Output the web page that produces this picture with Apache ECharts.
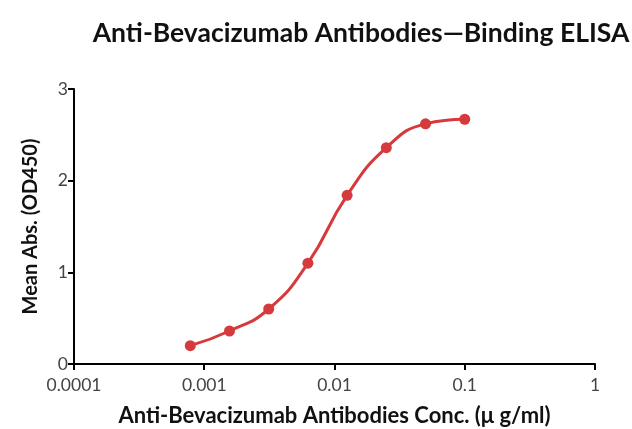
<!DOCTYPE html>
<html><head><meta charset="utf-8">
<script src="https://cdn.jsdelivr.net/npm/echarts@6/dist/echarts.min.js"></script>
<style>html,body{margin:0;padding:0;background:#fff}#c{width:632px;height:429px}</style>
</head><body><div id="c"></div>
<script>
const concentrations = [0.00078125, 0.0015625, 0.003125, 0.00625, 0.0125, 0.025, 0.05, 0.1];
const meanAbs = [0.20, 0.36, 0.60, 1.10, 1.84, 2.36, 2.62, 2.67];
const xTickLabels = ['0.0001', '0.001', '0.01', '0.1', '1'];
const yTickLabels = ['0', '1', '2', '3'];
const titleText = 'Anti-Bevacizumab Antibodies\u2014Binding ELISA';
const xName = 'Anti-Bevacizumab Antibodies Conc. (\u03bc g/ml)';
const yName = 'Mean Abs. (OD450)';

const chart = echarts.init(document.getElementById('c'), null, {renderer: 'canvas'});
const font = 'Lato';
chart.setOption({
  animation: false,
  backgroundColor: '#fff',
  title: {
    text: titleText, left: 356, top: 15, textAlign: 'center',
    textStyle: {fontFamily: font, fontWeight: 'bold', fontSize: 26.5, color: '#111'}
  },
  grid: {left: 74, right: 37, top: 89, bottom: 65, containLabel: false, outerBoundsMode: 'none'},
  xAxis: {
    type: 'log', logBase: 10, min: 0.0001, max: 1,
    name: xName, nameLocation: 'middle', nameGap: 41,
    nameTextStyle: {fontFamily: font, fontWeight: 'bold', fontSize: 22, color: '#111'},
    axisLine: {lineStyle: {color: '#000', width: 2}},
    axisTick: {show: true, length: 6, lineStyle: {color: '#000', width: 2}},
    minorTick: {show: false},
    splitLine: {show: false},
    axisLabel: {
      fontFamily: font, fontSize: 17.5, color: '#444', margin: 12,
      formatter: v => xTickLabels[Math.round(Math.log10(v)) + 4]
    }
  },
  yAxis: {
    type: 'value', min: 0, max: 3, interval: 1,
    name: yName, nameLocation: 'middle', nameGap: 33, nameRotate: 90,
    nameTextStyle: {fontFamily: font, fontWeight: 'bold', fontSize: 20, color: '#111'},
    axisLine: {show: true, lineStyle: {color: '#000', width: 2}},
    axisTick: {show: true, length: 6, lineStyle: {color: '#000', width: 2}},
    splitLine: {show: false},
    axisLabel: {
      fontFamily: font, fontSize: 17.5, color: '#444', margin: 6,
      formatter: v => yTickLabels[Math.round(v)]
    }
  },
  series: [{
    type: 'line',
    data: concentrations.map((c, i) => [c, meanAbs[i]]),
    smooth: 0.5,
    symbol: 'circle', symbolSize: 11,
    lineStyle: {color: '#d63a3c', width: 3},
    itemStyle: {color: '#d63a3c'}
  }]
});
</script></body></html>
